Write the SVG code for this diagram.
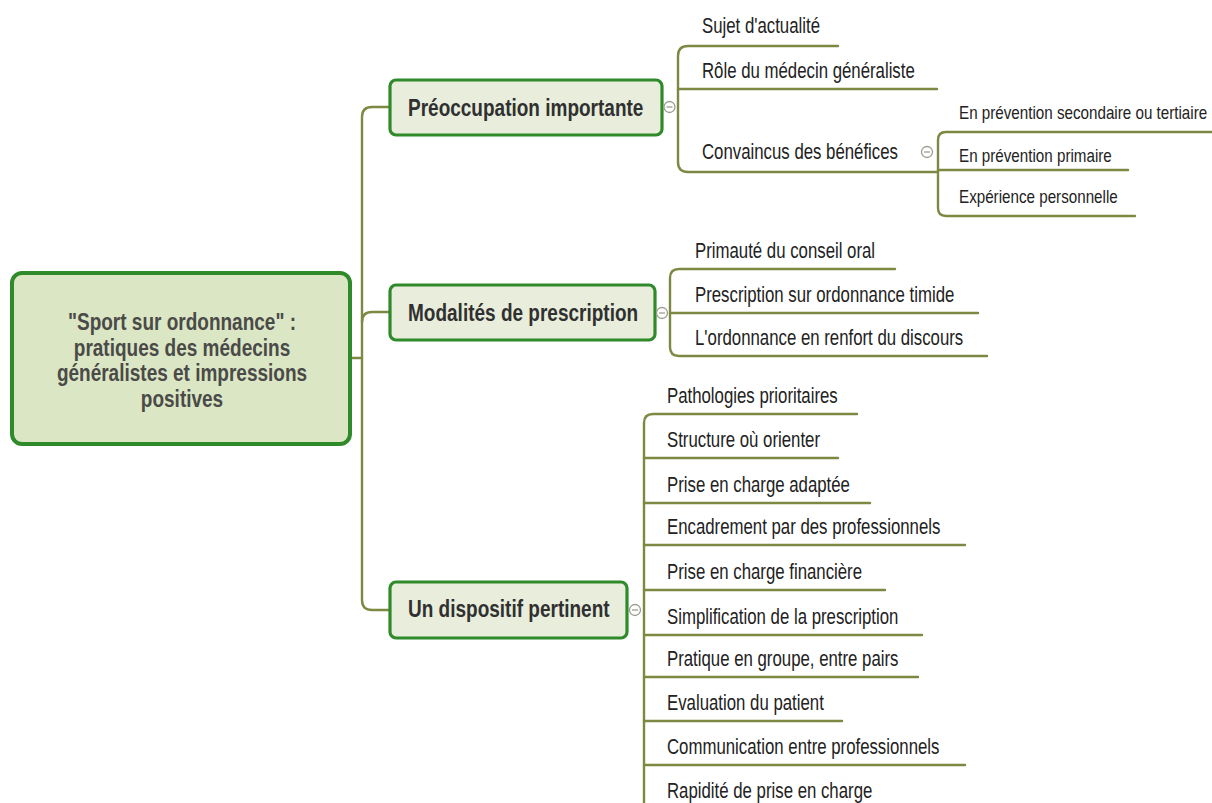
<svg xmlns="http://www.w3.org/2000/svg" width="1212" height="803" viewBox="0 0 1212 803">
<style>
.con{fill:none;stroke:#7b8942;stroke-width:2.4;stroke-linecap:round}
.root{fill:#dbe6c5;stroke:#2f8a2a;stroke-width:4}
.br{fill:#e8eddc;stroke:#2f8a2a;stroke-width:3.2}
.rt{font-family:"Liberation Sans",Arial,sans-serif;font-weight:bold;font-size:19px;fill:#4a4a48;text-anchor:middle}
.bt{font-family:"Liberation Sans",Arial,sans-serif;font-weight:bold;font-size:19px;fill:#303030}
.ct{font-family:"Liberation Sans",Arial,sans-serif;font-size:16.8px;fill:#222}
.st{font-family:"Liberation Sans",Arial,sans-serif;font-size:15.2px;fill:#222}
.tog circle{fill:#fff;stroke:#9c9c90;stroke-width:1.3}
.tog line{stroke:#9c9c90;stroke-width:1.3}
</style>
<rect width="1212" height="803" fill="#fff"/>
<g id="connectors">
<path class="con" d="M350,358 H362"/>
<path class="con" d="M390,107 H372 Q362,107 362,117 V600 Q362,610 372,610 H390"/>
<path class="con" d="M362,322 Q362,312 372,312 H390"/>
<path class="con" d="M838,46 H688 Q678,46 678,56 V162 Q678,172 688,172 H938"/>
<path class="con" d="M678,89 H937"/>
<path class="con" d="M1212,132 H946 Q938,132 938,140 V208 Q938,216 946,216 H1135"/>
<path class="con" d="M938,170 H1128"/>
<path class="con" d="M895,269 H679 Q670,269 670,278 V347 Q670,356 679,356 H987"/>
<path class="con" d="M670,313 H978"/>
<path class="con" d="M857,414 H653 Q644,414 644,423 V803"/>
<path class="con" d="M644,458 H838"/>
<path class="con" d="M644,503 H870"/>
<path class="con" d="M644,545 H965"/>
<path class="con" d="M644,590 H885"/>
<path class="con" d="M644,635 H922"/>
<path class="con" d="M644,677 H918"/>
<path class="con" d="M644,721 H842"/>
<path class="con" d="M644,765 H965"/>
</g>
<g id="root">
<rect class="root" x="12" y="273" width="338" height="171" rx="10"/>
<text class="rt" transform="matrix(1 0 0 1.22 182 330)">"Sport sur ordonnance" :</text>
<text class="rt" transform="matrix(1 0 0 1.22 182 355.5)">pratiques des médecins</text>
<text class="rt" transform="matrix(1 0 0 1.22 182 381)">généralistes et impressions</text>
<text class="rt" transform="matrix(1 0 0 1.22 182 406.5)">positives</text>
</g>
<g id="preoccupation">
<rect class="br" x="390" y="80" width="272" height="55" rx="6"/>
<text class="bt" transform="matrix(1 0 0 1.26 408 115.5)">Préoccupation importante</text>
<g class="tog"><circle cx="669.5" cy="107" r="5.5"/><line x1="666.5" y1="107" x2="672.5" y2="107"/></g>
</g>
<g id="modalites">
<rect class="br" x="390" y="285" width="265" height="55" rx="6"/>
<text class="bt" transform="matrix(1 0 0 1.26 408 321)">Modalités de prescription</text>
<g class="tog"><circle cx="662" cy="313" r="5.5"/><line x1="659" y1="313" x2="665" y2="313"/></g>
</g>
<g id="dispositif">
<rect class="br" x="390" y="582" width="237" height="56" rx="6"/>
<text class="bt" transform="matrix(1 0 0 1.26 408 617)">Un dispositif pertinent</text>
<g class="tog"><circle cx="635" cy="610" r="5.5"/><line x1="632" y1="610" x2="638" y2="610"/></g>
</g>
<g id="sujet"><text class="ct" transform="matrix(1 0 0 1.28 702 33)">Sujet d'actualité</text></g>
<g id="role"><text class="ct" transform="matrix(1 0 0 1.28 702 78)">Rôle du médecin généraliste</text></g>
<g id="convaincus"><text class="ct" transform="matrix(1 0 0 1.28 702 159)">Convaincus des bénéfices</text>
<g class="tog"><circle cx="927" cy="152" r="5.5"/><line x1="924" y1="152" x2="930" y2="152"/></g></g>
<g id="secondaire"><text class="st" transform="matrix(1 0 0 1.18 959 119)">En prévention secondaire ou tertiaire</text></g>
<g id="primaire"><text class="st" transform="matrix(1 0 0 1.18 959 162)">En prévention primaire</text></g>
<g id="experience"><text class="st" transform="matrix(1 0 0 1.18 959 203)">Expérience personnelle</text></g>
<g id="primaute"><text class="ct" transform="matrix(1 0 0 1.28 695 258)">Primauté du conseil oral</text></g>
<g id="prescription"><text class="ct" transform="matrix(1 0 0 1.28 695 302)">Prescription sur ordonnance timide</text></g>
<g id="ordonnance"><text class="ct" transform="matrix(1 0 0 1.28 695 345)">L'ordonnance en renfort du discours</text></g>
<g id="pathologies"><text class="ct" transform="matrix(1 0 0 1.28 667 403)">Pathologies prioritaires</text></g>
<g id="structure"><text class="ct" transform="matrix(1 0 0 1.28 667 447)">Structure où orienter</text></g>
<g id="adaptee"><text class="ct" transform="matrix(1 0 0 1.28 667 492)">Prise en charge adaptée</text></g>
<g id="encadrement"><text class="ct" transform="matrix(1 0 0 1.28 667 534)">Encadrement par des professionnels</text></g>
<g id="financiere"><text class="ct" transform="matrix(1 0 0 1.28 667 579)">Prise en charge financière</text></g>
<g id="simplification"><text class="ct" transform="matrix(1 0 0 1.28 667 624)">Simplification de la prescription</text></g>
<g id="pratique"><text class="ct" transform="matrix(1 0 0 1.28 667 666)">Pratique en groupe, entre pairs</text></g>
<g id="evaluation"><text class="ct" transform="matrix(1 0 0 1.28 667 710)">Evaluation du patient</text></g>
<g id="communication"><text class="ct" transform="matrix(1 0 0 1.28 667 754)">Communication entre professionnels</text></g>
<g id="rapidite"><text class="ct" transform="matrix(1 0 0 1.28 667 798)">Rapidité de prise en charge</text></g>
</svg>
